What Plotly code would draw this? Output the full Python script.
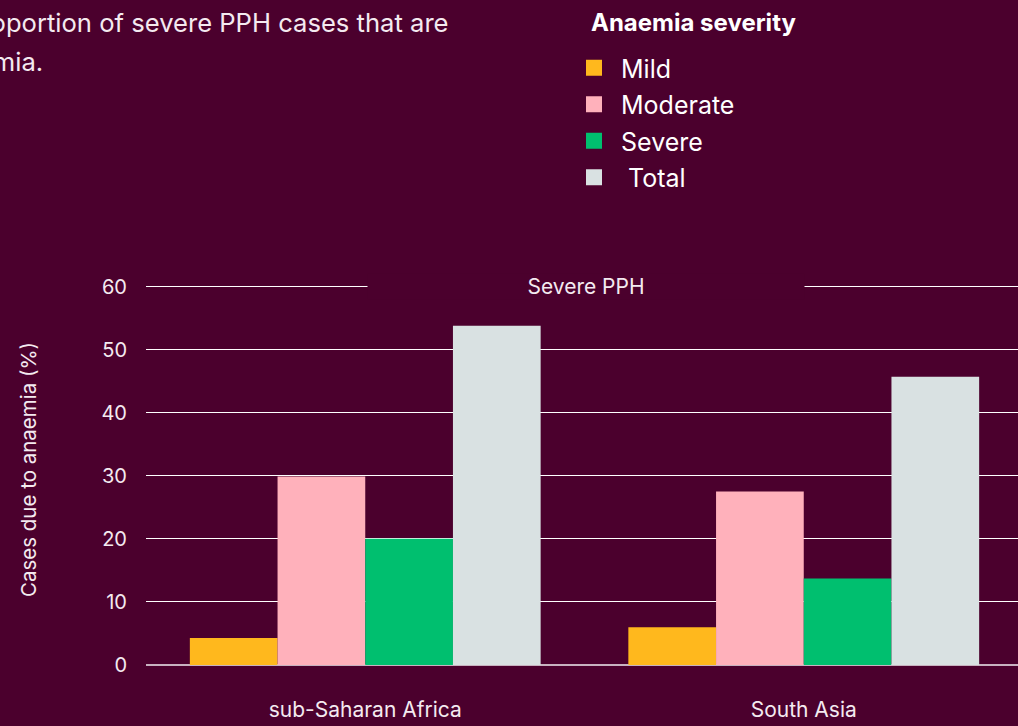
import plotly.graph_objects as go

regions = ["sub-Saharan Africa", "South Asia"]
severity = ["Mild", "Moderate", "Severe", "Total"]
mild = [4.3, 6.0]
moderate = [29.9, 27.5]
severe = [20.0, 13.7]
total = [53.8, 45.7]
y_ticks = [0, 10, 20, 30, 40, 50, 60]

BG = "#4b002d"
TXT = "#f4eaf0"
FONT = "Inter, sans-serif"
colors = {"Mild": "#ffb81d", "Moderate": "#ffb1bb", "Severe": "#00bf6f", "Total": "#d9e1e2"}
series = {"Mild": mild, "Moderate": moderate, "Severe": severe, "Total": total}
legend_names = {"Mild": "&nbsp;Mild", "Moderate": "&nbsp;Moderate",
                "Severe": "&nbsp;Severe", "Total": "&nbsp;&nbsp;Total"}

W, H = 1018, 726
L, R, T, B = 146, 0, 274, 61
plot_h = H - T - B

def py(p):
    return (H - B - p) / plot_h

def px(p):
    return (p - L) / (W - L - R)

fig = go.Figure()
for s in severity:
    fig.add_trace(go.Bar(x=regions, y=series[s], name=s,
                         marker=dict(color=colors[s], line=dict(width=0)),
                         showlegend=False))
    fig.add_trace(go.Scatter(x=[None], y=[None], mode="markers", name=legend_names[s],
                             legendgroup=s,
                             marker=dict(symbol="square", size=16, color=colors[s])))

fig.update_layout(
    width=W, height=H,
    margin=dict(l=L, r=R, t=T, b=B),
    paper_bgcolor=BG, plot_bgcolor=BG,
    barmode="group", bargap=0.2, bargroupgap=0,
    font=dict(family=FONT, color=TXT),
    xaxis=dict(range=[-0.5, 1.4886], showgrid=False, zeroline=False, showline=False,
               ticks="", tickfont=dict(size=21), ticklabelstandoff=30),
    yaxis=dict(range=[0, 62], tickvals=y_ticks, showgrid=True, gridcolor="#ffffff",
               gridwidth=1, zeroline=True, zerolinecolor="#c8b2c0", zerolinewidth=2,
               ticks="", tickfont=dict(size=20), ticklabelstandoff=18,
               title=dict(text="Cases due to anaemia (%)", font=dict(size=20.5), standoff=59)),
    legend=dict(x=px(574), y=py(45), xanchor="left", yanchor="top",
                bgcolor="rgba(0,0,0,0)",
                font=dict(family=FONT, size=25, color="#ffffff"),
                tracegroupgap=1, itemclick=False, traceorder="grouped"),
)

fig.add_annotation(text="<b>Anaemia severity</b>", x=px(589), y=py(22),
                   xref="paper", yref="paper", showarrow=False, xanchor="left",
                   yanchor="middle",
                   font=dict(family=FONT, size=24, color="#ffffff"))

fig.add_annotation(text="Severe PPH", x=px(586), y=60, xref="paper", yref="y",
                   showarrow=False, xanchor="center", yanchor="middle",
                   width=436, bgcolor=BG, borderpad=0,
                   font=dict(family=FONT, size=21, color=TXT))

fig.add_annotation(text="Proportion of severe PPH cases that are", x=px(451), y=py(23),
                   xref="paper", yref="paper", showarrow=False, xanchor="right",
                   yanchor="middle",
                   font=dict(family=FONT, size=25.6, color=TXT))
fig.add_annotation(text="anaemia.", x=px(45), y=py(61),
                   xref="paper", yref="paper", showarrow=False, xanchor="right",
                   yanchor="middle",
                   font=dict(family=FONT, size=25.6, color=TXT))

fig.write_html(
    "out.html",
    config={"displayModeBar": False},
    post_script="document.body.style.margin='0';document.body.style.background='#4b002d';",
)
